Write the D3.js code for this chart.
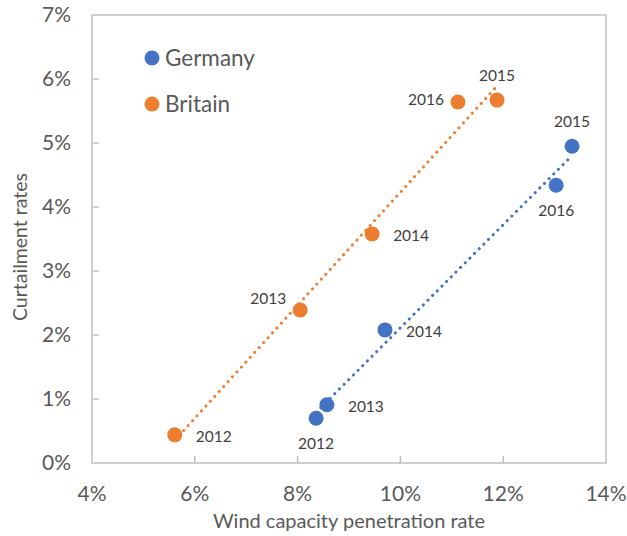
<!DOCTYPE html>
<html>
<head>
<meta charset="utf-8">
<script src="https://cdn.jsdelivr.net/npm/d3@7"></script>
<style>
  body { margin: 0; background: #fff; }
  text { font-family: Lato, "Open Sans", sans-serif; }
</style>
</head>
<body>
<div id="chart"></div>
<script>
// data (percent)
const years = ['2012', '2013', '2014', '2015', '2016'];
const germanyX = [8.36, 8.57, 9.70, 13.34, 13.03];
const germanyY = [0.70, 0.91, 2.08, 4.95, 4.34];
const britainX = [5.61, 8.05, 9.45, 11.88, 11.12];
const britainY = [0.44, 2.39, 3.58, 5.67, 5.64];
const xTicks = [4, 6, 8, 10, 12, 14];
const yTicks = [0, 1, 2, 3, 4, 5, 6, 7];

// where each year's label sits relative to its dot
const germanyLabelPos = ['below', 'right', 'right', 'above', 'below'];
const britainLabelPos = ['right', 'upleft', 'right', 'above', 'left'];

const width = 627;
const height = 536;
const margin = { top: 15, right: 21, bottom: 73, left: 92 };

const svg = d3.select('#chart')
  .append('svg')
  .attr('width', width)
  .attr('height', height);

const x = d3.scaleLinear().domain([4, 14]).range([margin.left, width - margin.right]);
const y = d3.scaleLinear().domain([0, 7]).range([height - margin.bottom, margin.top]);

const axisColor = '#bfbfbf';
const textColor = '#595959';

// plot frame
svg.append('rect')
  .attr('x', x(4))
  .attr('y', y(7))
  .attr('width', x(14) - x(4))
  .attr('height', y(0) - y(7))
  .attr('fill', 'none')
  .attr('stroke', axisColor)
  .attr('stroke-width', 1.5);

// inner ticks
svg.append('g')
  .selectAll('line')
  .data(xTicks.slice(1, -1))
  .enter()
  .append('line')
  .attr('x1', (d) => x(d))
  .attr('x2', (d) => x(d))
  .attr('y1', y(0))
  .attr('y2', y(0) - 7)
  .attr('stroke', axisColor)
  .attr('stroke-width', 1.5);

svg.append('g')
  .selectAll('line')
  .data(yTicks.slice(1, -1))
  .enter()
  .append('line')
  .attr('x1', x(4))
  .attr('x2', x(4) + 7)
  .attr('y1', (d) => y(d))
  .attr('y2', (d) => y(d))
  .attr('stroke', axisColor)
  .attr('stroke-width', 1.5);

// tick labels
svg.append('g')
  .selectAll('text')
  .data(xTicks)
  .enter()
  .append('text')
  .attr('x', (d) => x(d))
  .attr('y', y(0) + 38)
  .attr('text-anchor', 'middle')
  .attr('font-size', 21)
  .attr('fill', textColor)
  .text((d) => `${d}%`);

svg.append('g')
  .selectAll('text')
  .data(yTicks)
  .enter()
  .append('text')
  .attr('x', x(4) - 21)
  .attr('y', (d) => y(d))
  .attr('dy', '0.35em')
  .attr('text-anchor', 'end')
  .attr('font-size', 21)
  .attr('fill', textColor)
  .text((d) => `${d}%`);

// axis titles
svg.append('text')
  .attr('x', (x(4) + x(14)) / 2)
  .attr('y', height - 8)
  .attr('text-anchor', 'middle')
  .attr('font-size', 20)
  .attr('fill', textColor)
  .text('Wind capacity penetration rate');

svg.append('text')
  .attr('transform', `translate(27,${(y(0) + y(7)) / 2 + 8}) rotate(-90)`)
  .attr('text-anchor', 'middle')
  .attr('font-size', 19.5)
  .attr('fill', textColor)
  .text('Curtailment rates');

function fit(xs, ys) {
  const mx = d3.mean(xs);
  const my = d3.mean(ys);
  const sxy = d3.sum(xs, (v, i) => (v - mx) * (ys[i] - my));
  const sxx = d3.sum(xs, (v) => (v - mx) * (v - mx));
  const b = sxy / sxx;
  return (v) => my + b * (v - mx);
}

function drawSeries(xs, ys, labelPos, color) {
  const f = fit(xs, ys);
  const [x0, x1] = d3.extent(xs);
  svg.append('line')
    .attr('x1', x(x0))
    .attr('y1', y(f(x0)))
    .attr('x2', x(x1))
    .attr('y2', y(f(x1)))
    .attr('stroke', color)
    .attr('stroke-width', 3)
    .attr('stroke-linecap', 'round')
    .attr('stroke-dasharray', '0.1 6.5');

  const pts = years.map((yr, i) => ({ yr, vx: xs[i], vy: ys[i], pos: labelPos[i] }));

  svg.append('g')
    .selectAll('circle')
    .data(pts)
    .enter()
    .append('circle')
    .attr('cx', (d) => x(d.vx))
    .attr('cy', (d) => y(d.vy))
    .attr('r', 7.5)
    .attr('fill', color);

  svg.append('g')
    .selectAll('text')
    .data(pts)
    .enter()
    .append('text')
    .attr('x', (d) => {
      if (d.pos === 'right') return x(d.vx) + 21;
      if (d.pos === 'left' || d.pos === 'upleft') return x(d.vx) - 14;
      return x(d.vx);
    })
    .attr('y', (d) => {
      if (d.pos === 'above') return y(d.vy) - 25;
      if (d.pos === 'below') return y(d.vy) + 25;
      if (d.pos === 'upleft') return y(d.vy) - 11;
      if (d.pos === 'left') return y(d.vy) - 2;
      return y(d.vy) + 2;
    })
    .attr('dy', '0.35em')
    .attr('text-anchor', (d) => {
      if (d.pos === 'right') return 'start';
      if (d.pos === 'left' || d.pos === 'upleft') return 'end';
      return 'middle';
    })
    .attr('font-size', 15.5)
    .attr('fill', '#404040')
    .text((d) => d.yr);
}

drawSeries(britainX, britainY, britainLabelPos, '#ed7d31');
drawSeries(germanyX, germanyY, germanyLabelPos, '#4472c4');

// legend
const legend = [
  { name: 'Germany', color: '#4472c4' },
  { name: 'Britain', color: '#ed7d31' },
];
const lg = svg.append('g')
  .selectAll('g')
  .data(legend)
  .enter()
  .append('g')
  .attr('transform', (d, i) => `translate(152,${58 + i * 46})`);
lg.append('circle')
  .attr('r', 7.5)
  .attr('fill', (d) => d.color);
lg.append('text')
  .attr('x', 13)
  .attr('dy', '0.35em')
  .attr('font-size', 22.5)
  .attr('fill', textColor)
  .text((d) => d.name);
</script>
</body>
</html>
